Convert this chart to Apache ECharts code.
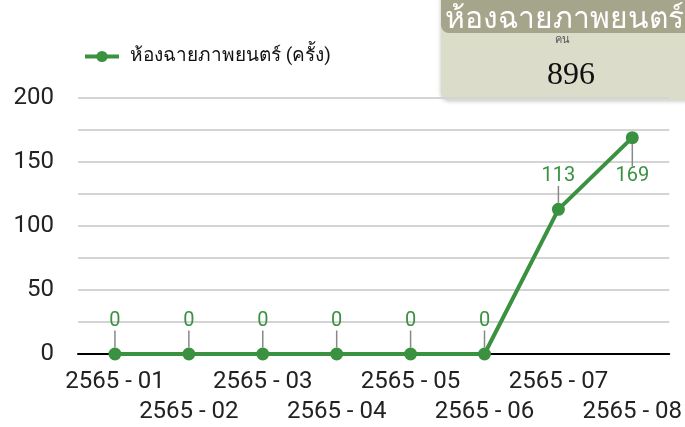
<!DOCTYPE html>
<html lang="th">
<head>
<meta charset="UTF-8">
<title>ห้องฉายภาพยนตร์</title>
<script src="https://cdn.jsdelivr.net/npm/echarts@6/dist/echarts.min.js"></script>
<style>body{margin:0;background:#fff}</style>
</head>
<body>
<div id="main" style="width:685px;height:427px"></div>
<script type="text/javascript">
  var months = ['2565 - 01', '2565 - 02', '2565 - 03', '2565 - 04', '2565 - 05', '2565 - 06', '2565 - 07', '2565 - 08'];
  var visits = [0, 0, 0, 0, 0, 0, 113, 169];
  var seriesName = 'ห้องฉายภาพยนตร์ (ครั้ง)';
  var boxTitle = 'ห้องฉายภาพยนตร์';
  var boxUnit = 'คน';
  var boxTotal = '896';

  var green = '#3a9140';
  var myChart = echarts.init(document.getElementById('main'));

  var pointData = visits.map(function (v, i) {
    if (i === visits.length - 1) {
      return {value: v, label: {position: 'bottom'}};
    }
    return v;
  });

  var option = {
    animation: false,
    textStyle: {fontFamily: 'Roboto, sans-serif'},
    legend: {
      left: 78, top: 42,
      itemWidth: 34, itemHeight: 14, itemGap: 10,
      lineStyle: {width: 4},
      textStyle: {fontSize: 19, color: '#111', padding: [0, 0, 0, 6]},
      data: [seriesName]
    },
    grid: {left: 78, right: 15, top: 98, bottom: 73},
    xAxis: {
      type: 'category',
      data: months,
      axisLine: {lineStyle: {color: '#000', width: 2}},
      axisTick: {show: false},
      axisLabel: {
        interval: 0, fontSize: 24, color: '#222', lineHeight: 30, margin: 13,
        formatter: function (v, i) { return i % 2 ? '\n' + v : v; }
      }
    },
    yAxis: {
      type: 'value',
      min: 0, max: 200, interval: 25,
      axisLine: {show: false},
      axisTick: {show: false},
      axisLabel: {
        fontSize: 24, color: '#222', margin: 24,
        formatter: function (v) { return v % 50 === 0 ? String(v) : ''; }
      },
      splitLine: {lineStyle: {color: '#d4d4d4', width: 2}}
    },
    series: [{
      name: seriesName,
      type: 'line',
      data: pointData,
      symbol: 'circle',
      symbolSize: 13,
      itemStyle: {color: green},
      lineStyle: {color: green, width: 4},
      label: {show: true, position: 'top', distance: 4, fontSize: 20, color: green},
      labelLine: {show: true, lineStyle: {color: '#888', width: 1.5}},
      labelLayout: function (params) {
        return {dy: params.dataIndex === visits.length - 1 ? 18 : -13};
      }
    }],
    graphic: [{
      type: 'group', x: 441, y: 0, z: 100,
      children: [
        {type: 'rect', shape: {x: 0, y: -10, width: 260, height: 110, r: 8},
          style: {fill: '#dcdccb', shadowBlur: 4, shadowColor: 'rgba(0,0,0,0.25)', shadowOffsetY: 1}},
        {type: 'rect', shape: {x: 0, y: -10, width: 260, height: 43, r: 8},
          style: {fill: '#a5a58c'}},
        {type: 'text', x: 4, y: 20, style: {text: boxTitle, fill: '#fff', fontSize: 30,
          verticalAlign: 'middle', fontFamily: 'sans-serif'}},
        {type: 'text', x: 121, y: 40, style: {text: boxUnit, fill: '#555', fontSize: 11,
          align: 'center', verticalAlign: 'middle', fontFamily: 'serif'}},
        {type: 'text', x: 130, y: 76, style: {text: boxTotal, fill: '#111', fontSize: 32,
          align: 'center', verticalAlign: 'middle', fontFamily: 'Liberation Serif, serif'}}
      ]
    }]
  };
  myChart.setOption(option);
</script>
</body>
</html>
